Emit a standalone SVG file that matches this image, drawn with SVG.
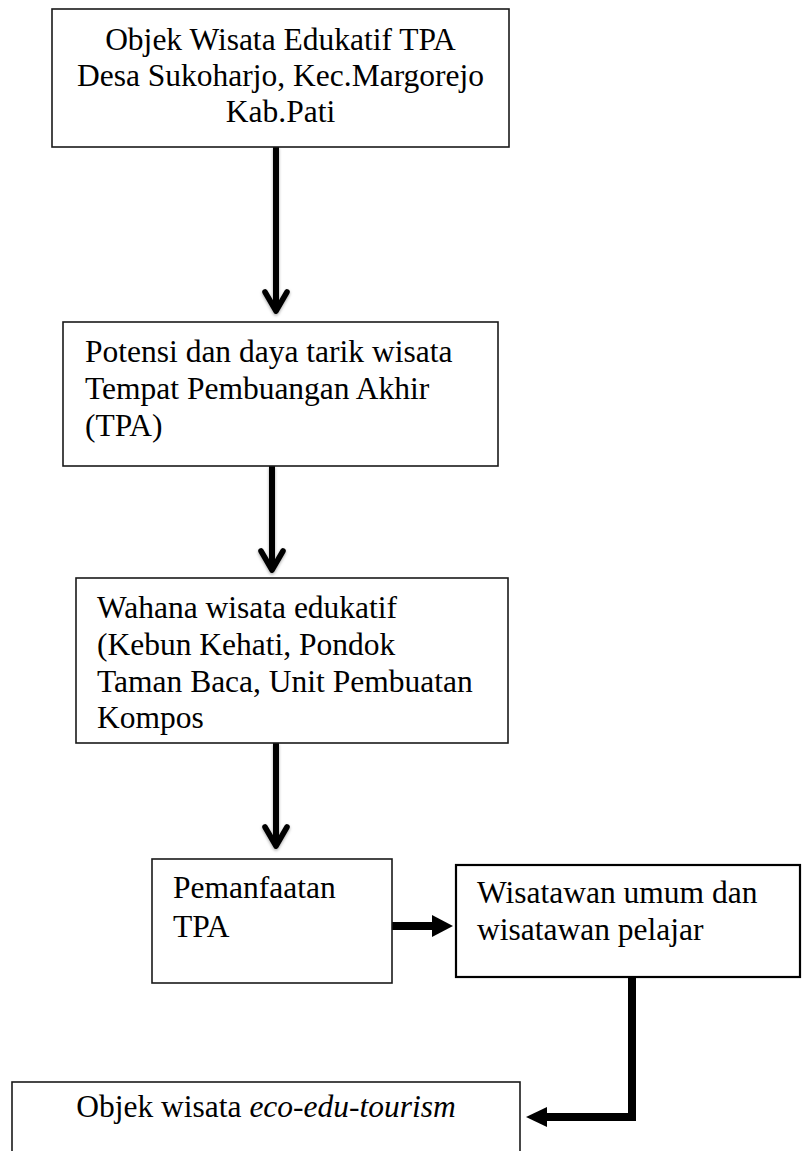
<svg xmlns="http://www.w3.org/2000/svg" width="805" height="1151" viewBox="0 0 805 1151">
<defs>
<filter id="sh" x="-50%" y="-10%" width="200%" height="120%">
<feDropShadow dx="0" dy="1.5" stdDeviation="1.5" flood-color="#000" flood-opacity="0.35"/>
</filter>
</defs>
<style>
.box{fill:#fff;stroke:#1a1a1a;stroke-width:1.6}
.t{font-family:"Liberation Serif","Times New Roman",serif;font-size:31.5px;fill:#000}
.c{text-anchor:middle}
.ln{fill:none;stroke:#000;stroke-width:6}
.chev{fill:none;stroke:#000;stroke-width:5.5;stroke-linecap:round;stroke-linejoin:round}
.thick{fill:none;stroke:#000;stroke-width:8}
.head{fill:#000}
</style>
<rect width="805" height="1151" fill="#fff"/>
<g id="connectors">
<g filter="url(#sh)">
<line class="ln" x1="276" y1="147" x2="276" y2="310"/>
<path class="chev" d="M265 292 L276 311 L287 292"/>
</g>
<g filter="url(#sh)">
<line class="ln" x1="272" y1="466" x2="272" y2="569"/>
<path class="chev" d="M261 551 L272 570 L283 551"/>
</g>
<g filter="url(#sh)">
<line class="ln" x1="276" y1="743" x2="276" y2="845"/>
<path class="chev" d="M265 827 L276 846 L287 827"/>
</g>
<line class="thick" x1="392" y1="926" x2="435" y2="926"/>
<path class="head" d="M432 915 L453 926 L432 937 Z"/>
<path class="thick" d="M632 977 V1117 H544"/>
<path class="head" d="M547 1107 L526 1117 L547 1127 Z"/>
</g>
<g id="node1">
<rect class="box" x="52" y="9" width="457" height="138"/>
<text class="t c" x="280.5" y="50">Objek Wisata Edukatif TPA</text>
<text class="t c" x="280.5" y="86">Desa Sukoharjo, Kec.Margorejo</text>
<text class="t c" x="280.5" y="122">Kab.Pati</text>
</g>
<g id="node2">
<rect class="box" x="63" y="322" width="435" height="144"/>
<text class="t" x="85" y="362">Potensi dan daya tarik wisata</text>
<text class="t" x="85" y="399">Tempat Pembuangan Akhir</text>
<text class="t" x="85" y="436">(TPA)</text>
</g>
<g id="node3">
<rect class="box" x="76" y="578" width="432" height="165"/>
<text class="t" x="97" y="618">Wahana wisata edukatif</text>
<text class="t" x="97" y="655">(Kebun Kehati, Pondok</text>
<text class="t" x="97" y="692">Taman Baca, Unit Pembuatan</text>
<text class="t" x="97" y="728">Kompos</text>
</g>
<g id="node4">
<rect class="box" x="152" y="859" width="240" height="124"/>
<text class="t" x="173" y="898">Pemanfaatan</text>
<text class="t" x="173" y="937">TPA</text>
</g>
<g id="node5">
<rect class="box" x="456" y="865" width="344" height="112" style="stroke:#000;stroke-width:2.2"/>
<text class="t" x="477" y="903">Wisatawan umum dan</text>
<text class="t" x="477" y="940">wisatawan pelajar</text>
</g>
<g id="node6">
<rect class="box" x="12" y="1082" width="508" height="80"/>
<text class="t c" x="266" y="1117">Objek wisata <tspan font-style="italic">eco-edu-tourism</tspan></text>
</g>
</svg>
